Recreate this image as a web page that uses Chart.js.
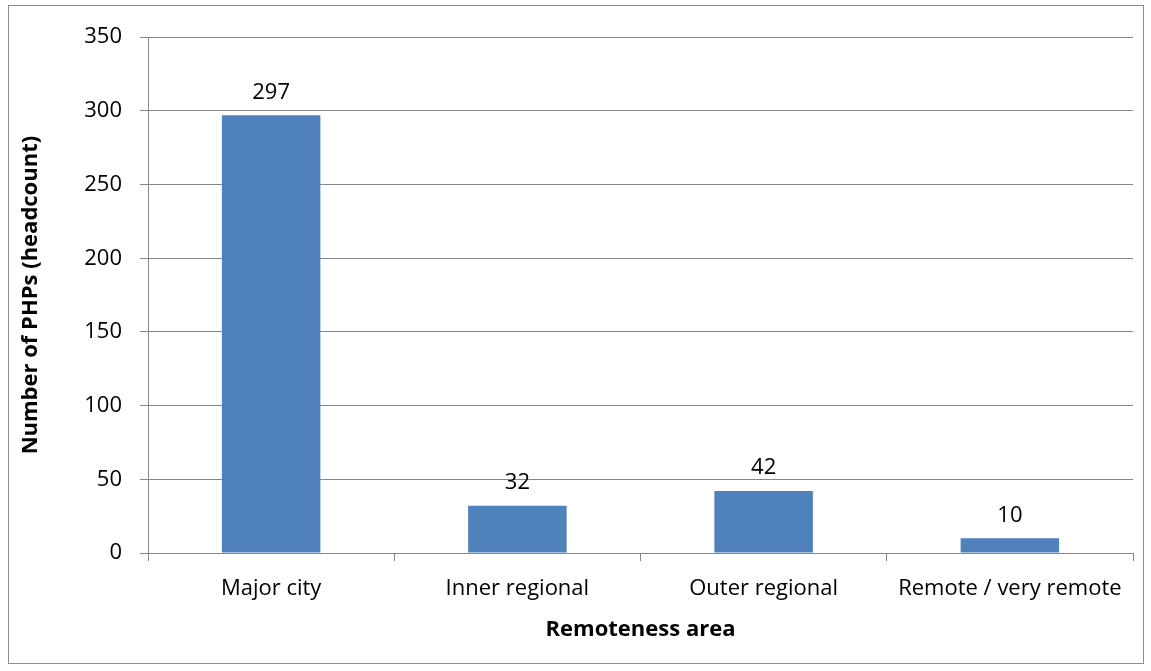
<!DOCTYPE html>
<html>
<head>
<meta charset="utf-8">
<script src="https://cdn.jsdelivr.net/npm/chart.js@4/dist/chart.umd.min.js"></script>
<style>
  body { margin: 0; background: #fff; }
  #box { position: absolute; left: 8px; top: 5px; width: 1134px; height: 657px; border: 1px solid #8c8c8c; }
</style>
</head>
<body>
<div id="box"><canvas id="myChart" width="1134" height="657"></canvas></div>
<script>
// chart data
const categories = ['Major city', 'Inner regional', 'Outer regional', 'Remote / very remote'];
const headcount = [297, 32, 42, 10];
const yTicks = [0, 50, 100, 150, 200, 250, 300, 350];

const fontFamily = '"Open Sans", sans-serif';
const gridColor = '#868686';

// draws the value above each bar
const barLabels = {
    id: 'barLabels',
    afterDatasetsDraw(chart) {
        const ctx = chart.ctx;
        const meta = chart.getDatasetMeta(0);
        ctx.save();
        ctx.font = '22px ' + fontFamily;
        ctx.fillStyle = '#000';
        ctx.textAlign = 'center';
        ctx.textBaseline = 'middle';
        meta.data.forEach((bar, i) => {
            ctx.fillText(headcount[i], bar.x, bar.y - 23);
        });
        ctx.restore();
    }
};

var ctx = document.getElementById('myChart').getContext('2d');

var chart = new Chart(ctx, {
    type: 'bar',
    data: {
        labels: categories,
        datasets: [{
            data: headcount,
            backgroundColor: '#4F81BD',
            borderWidth: 0,
            categoryPercentage: 1,
            barPercentage: 0.4
        }]
    },
    options: {
        responsive: false,
        animation: false,
        layout: { padding: { top: 30, right: 10, left: 0, bottom: 0 } },
        plugins: {
            legend: { display: false },
            tooltip: { enabled: false }
        },
        scales: {
            x: {
                afterFit(scale) { scale.height = 110; },
                grid: {
                    offset: true,
                    drawOnChartArea: false,
                    tickLength: 8,
                    color: gridColor
                },
                border: { color: gridColor },
                ticks: {
                    padding: 15,
                    color: '#000',
                    font: { family: fontFamily, size: 22 }
                },
                title: {
                    display: true,
                    text: 'Remoteness area',
                    color: '#000',
                    font: { family: fontFamily, size: 22, weight: 'bold' },
                    padding: { top: 0, bottom: 20 }
                }
            },
            y: {
                min: 0,
                max: 350,
                afterFit(scale) { scale.width = 139; },
                afterBuildTicks(scale) { scale.ticks = yTicks.map(v => ({ value: v })); },
                grid: {
                    tickLength: 8,
                    color: gridColor
                },
                border: { color: gridColor },
                ticks: {
                    padding: 18,
                    color: '#000',
                    font: { family: fontFamily, size: 22 }
                },
                title: {
                    display: true,
                    text: 'Number of PHPs (headcount)',
                    color: '#000',
                    font: { family: fontFamily, size: 22, weight: 'bold' },
                    padding: { top: 9, bottom: 0 }
                }
            }
        }
    },
    plugins: [barLabels]
});
</script>
</body>
</html>
